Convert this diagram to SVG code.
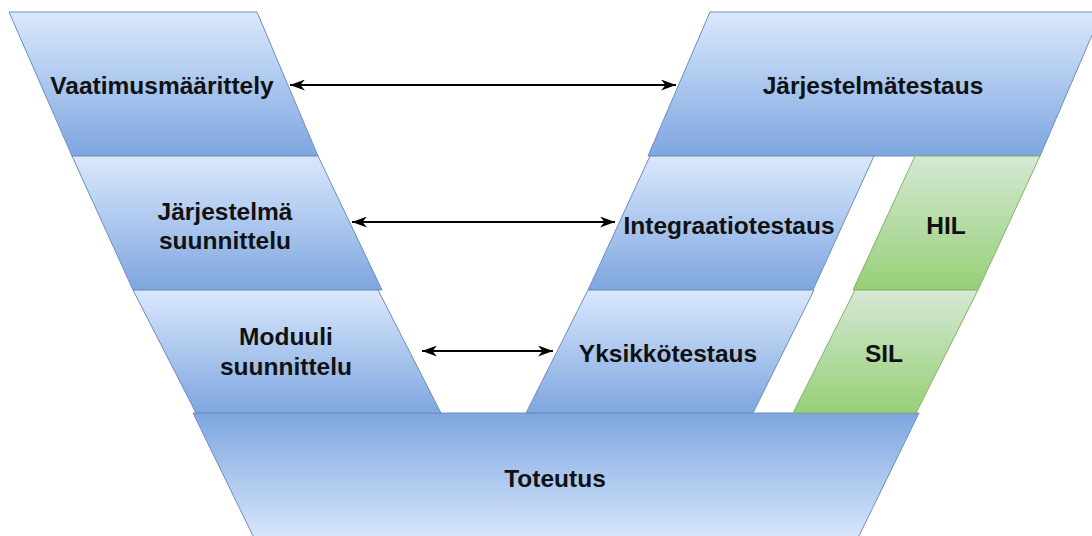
<svg xmlns="http://www.w3.org/2000/svg" width="1092" height="536" viewBox="0 0 1092 536">
  <defs>
    <linearGradient id="blueDown" x1="0" y1="0" x2="0" y2="1">
      <stop offset="0" stop-color="#dae8fc"/>
      <stop offset="1" stop-color="#7ea6e0"/>
    </linearGradient>
    <linearGradient id="blueUp" x1="0" y1="0" x2="0" y2="1">
      <stop offset="0" stop-color="#7ea6e0"/>
      <stop offset="1" stop-color="#dae8fc"/>
    </linearGradient>
    <linearGradient id="greenDown" x1="0" y1="0" x2="0" y2="1">
      <stop offset="0" stop-color="#d5e8d4"/>
      <stop offset="1" stop-color="#97d077"/>
    </linearGradient>
    <marker id="arrow" viewBox="0 0 15 11" refX="15" refY="5.5" markerWidth="15" markerHeight="11" markerUnits="userSpaceOnUse" orient="auto-start-reverse">
      <path d="M0,0 L15,5.5 L0,11 L4.5,5.5 Z" fill="#000"/>
    </marker>
    <style>
      .blue { fill: url(#blueDown); stroke: #6c8ebf; stroke-width: 1; }
      .blueRev { fill: url(#blueUp); stroke: #6c8ebf; stroke-width: 1; }
      .green { fill: url(#greenDown); stroke: #82b366; stroke-width: 1; }
      .lbl { font-family: "Liberation Sans", Arial, sans-serif; font-weight: bold; font-size: 24.5px; fill: #111; text-anchor: middle; }
      .link { stroke: #000; stroke-width: 2; fill: none; marker-start: url(#arrow); marker-end: url(#arrow); }
    </style>
  </defs>

  <!-- bottom of the V -->
  <g id="toteutus">
    <polygon class="blueRev" points="193,413 919,413 856,542 256,542"/>
    <text class="lbl" x="555" y="487">Toteutus</text>
  </g>

  <!-- left arm: specification and design -->
  <g id="vaatimusmaarittely">
    <polygon class="blue" points="9,12 257,12 318,156 72,156"/>
    <text class="lbl" x="162" y="94">Vaatimusmäärittely</text>
  </g>
  <g id="jarjestelma-suunnittelu">
    <polygon class="blue" points="72,156 318,156 382,290 133,290"/>
    <text class="lbl" x="225" y="220">Järjestelmä</text>
    <text class="lbl" x="225" y="249">suunnittelu</text>
  </g>
  <g id="moduuli-suunnittelu">
    <polygon class="blue" points="133,290 378,290 441,413 196,413"/>
    <text class="lbl" x="286" y="345">Moduuli</text>
    <text class="lbl" x="286" y="375">suunnittelu</text>
  </g>

  <!-- right arm: testing -->
  <g id="jarjestelmatestaus">
    <polygon class="blue" points="710,12 1102,12 1040,156 648,156"/>
    <text class="lbl" x="873" y="94">Järjestelmätestaus</text>
  </g>
  <g id="integraatiotestaus">
    <polygon class="blue" points="650,156 874,156 813,290 588,290"/>
    <text class="lbl" x="729" y="234">Integraatiotestaus</text>
  </g>
  <g id="hil">
    <polygon class="green" points="915,156 1040,156 978,290 853,290"/>
    <text class="lbl" x="946" y="234">HIL</text>
  </g>
  <g id="yksikkotestaus">
    <polygon class="blue" points="588,290 814,290 753,413 526,413"/>
    <text class="lbl" x="668" y="362">Yksikkötestaus</text>
  </g>
  <g id="sil">
    <polygon class="green" points="855,290 978,290 916,413 793,413"/>
    <text class="lbl" x="884" y="362">SIL</text>
  </g>

  <!-- level correspondences -->
  <g id="connectors">
    <line class="link" x1="290" y1="85" x2="676" y2="85"/>
    <line class="link" x1="352" y1="222" x2="615" y2="222"/>
    <line class="link" x1="422" y1="351" x2="553" y2="351"/>
  </g>
</svg>
